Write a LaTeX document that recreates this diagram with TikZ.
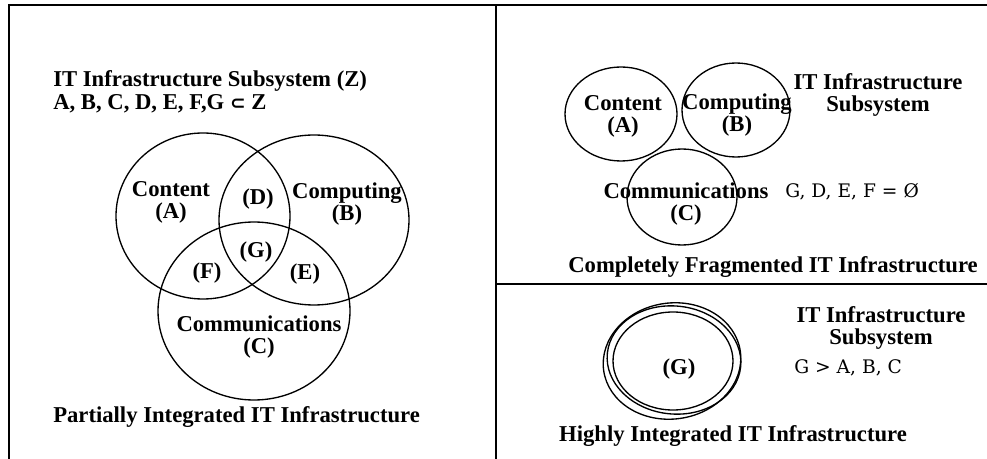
\documentclass[tikz,border=0pt]{standalone}
\usepackage{amsmath,amssymb}
\usepackage{fontspec}
\setmainfont{Liberation Serif}
\newfontfamily\setfont{DejaVu Serif}
\newfontfamily\symfont{DejaVu Sans}
\usepackage{tikz}
\definecolor{ink}{HTML}{000000}
\tikzset{
  frame/.style={draw=ink, line width=1.6pt},
  ring/.style={draw=ink, line width=1pt},
  lab/.style={text=ink, font=\bfseries\fontsize{17}{16.5}\selectfont, align=center, inner sep=0pt},
  labn/.style={text=ink, font=\setfont\fontsize{14}{16.5}\selectfont, inner sep=0pt},
}

\begin{document}
\begin{tikzpicture}[x=0.75pt, y=-0.75pt]
  \useasboundingbox (0,0) rectangle (987,459);
  \coordinate (TL) at (9,5);
  \coordinate (BL) at (9,459);
  \coordinate (TR) at (987,5);
  \coordinate (TM) at (496,5);
  \coordinate (BM) at (496,459);
  \coordinate (ML) at (496,284);
  \coordinate (MR) at (987,284);
  \draw[frame] (BL)--(TL)--(TR);
  \draw[frame] (TM)--(BM);
  \draw[frame] (ML)--(MR);
  % partially integrated
  \draw[ring] (203,216) ellipse [x radius=87, y radius=83];
  \draw[ring] (314,220) ellipse [x radius=95, y radius=85];
  \draw[ring] (254,311) ellipse [x radius=96, y radius=89];
  \node[lab, font=\bfseries\fontsize{17}{17.5}\selectfont, align=left, anchor=north west] (zsys) at (53,70)
    {IT Infrastructure Subsystem (Z)\\A, B, C, D, E, F,G {\symfont\fontsize{14}{14}\selectfont ⊂} Z};
  \node[lab] (pa) at (171,202) {Content\\(A)};
  \node[lab] (pd) at (258,199) {(D)};
  \node[lab] (pb) at (347,204) {Computing\\(B)};
  \node[lab] (pg) at (256,252) {(G)};
  \node[lab] (pf) at (207,273) {(F)};
  \node[lab] (pe) at (305,274) {(E)};
  \node[lab] (pc) at (259,337) {Communications\\(C)};
  \node[lab, anchor=west] (ptitle) at (53,417) {Partially Integrated IT Infrastructure};
  % completely fragmented
  \draw[ring] (621,114) ellipse [x radius=56, y radius=47];
  \draw[ring] (736,110) ellipse [x radius=54, y radius=47];
  \draw[ring] (682,197) ellipse [x radius=55, y radius=48];
  \node[lab] (fa) at (623,116) {Content\\(A)};
  \node[lab] (fb) at (737,115) {Computing\\(B)};
  \node[lab] (fsys) at (878,95) {IT Infrastructure\\Subsystem};
  \node[lab] (fc) at (686,204) {Communications\\(C)};
  \node[labn, anchor=west] (fset) at (785,192) {G, D, E, F = Ø};
  \node[lab] (ftitle) at (773,267) {Completely Fragmented IT Infrastructure};
  % highly integrated
  \draw[ring] (672,361) ellipse [x radius=69, y radius=58, rotate=8];
  \draw[ring] (674,360) ellipse [x radius=67, y radius=54, rotate=-6];
  \draw[ring] (673,361) ellipse [x radius=60, y radius=49];
  \node[lab] (hg) at (679,369) {(G)};
  \node[lab] (hsys) at (881,328) {IT Infrastructure\\Subsystem};
  \node[labn, anchor=west] (hset) at (794,368) {G > A, B, C};
  \node[lab] (htitle) at (733,436) {Highly Integrated IT Infrastructure};
\end{tikzpicture}
\end{document}
